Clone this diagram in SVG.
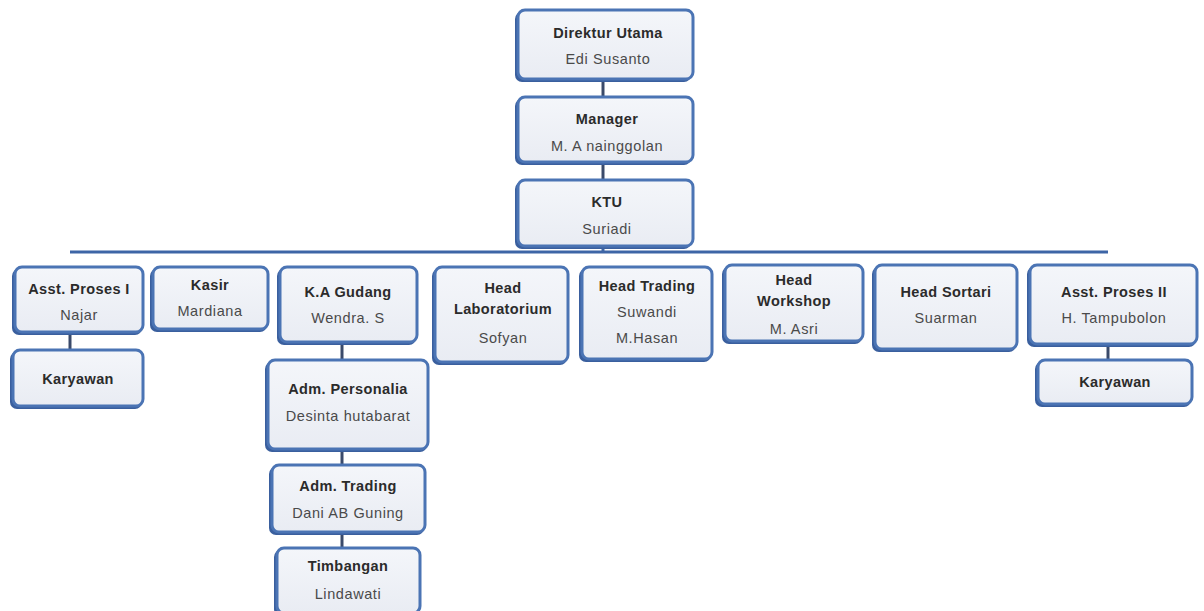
<svg xmlns="http://www.w3.org/2000/svg" width="1204" height="611" viewBox="0 0 1204 611">
<defs>
<linearGradient id="g" x1="0" y1="0" x2="0" y2="1">
<stop offset="0" stop-color="#f4f6fa"/>
<stop offset="1" stop-color="#e9ecf3"/>
</linearGradient>
<style>
.sh{fill:#3a5f9e}
.bx{fill:url(#g);stroke:#4b74b4;stroke-width:3}
.t{font-family:"Liberation Sans",Arial,sans-serif;font-size:14.5px;font-weight:bold;fill:#2b2b2b;text-anchor:middle;letter-spacing:0.4px}
.n{font-family:"Liberation Sans",Arial,sans-serif;font-size:14.5px;fill:#4a4a4a;text-anchor:middle;letter-spacing:0.6px}
.c{stroke:#3d65a6;stroke-width:3;fill:none}
.s{stroke:#3a4a6a;stroke-width:3;fill:none}
</style>
</defs>
<rect width="1204" height="611" fill="#ffffff"/>
<g id="connectors">
<line class="c" x1="70" y1="252" x2="1108" y2="252"/>
<line class="s" x1="603" y1="80" x2="603" y2="97"/>
<line class="s" x1="603" y1="163" x2="603" y2="180"/>
<line class="c" x1="603" y1="247" x2="603" y2="252"/>
<line class="s" x1="70" y1="333" x2="70" y2="350"/>
<line class="s" x1="342" y1="343" x2="342" y2="360"/>
<line class="s" x1="342" y1="450" x2="342" y2="465"/>
<line class="s" x1="342" y1="533" x2="342" y2="548"/>
<line class="s" x1="1108" y1="345" x2="1108" y2="360"/>
</g>
<g id="direktur"><rect class="sh" x="515" y="12" width="176" height="70" rx="7"/><rect class="bx" x="518" y="10" width="175" height="69" rx="7"/><text class="t" x="608" y="38">Direktur Utama</text><text class="n" x="608" y="64">Edi Susanto</text></g>
<g id="manager"><rect class="sh" x="515" y="99" width="176" height="66" rx="7"/><rect class="bx" x="518" y="97" width="175" height="65" rx="7"/><text class="t" x="607" y="124">Manager</text><text class="n" x="607" y="151">M. A nainggolan</text></g>
<g id="ktu"><rect class="sh" x="515" y="182" width="176" height="67" rx="7"/><rect class="bx" x="518" y="180" width="175" height="66" rx="7"/><text class="t" x="607" y="207">KTU</text><text class="n" x="607" y="234">Suriadi</text></g>
<g id="asst1"><rect class="sh" x="12" y="269" width="130" height="66" rx="7"/><rect class="bx" x="15" y="267" width="128" height="65" rx="7"/><text class="t" x="79" y="294">Asst. Proses I</text><text class="n" x="79" y="320">Najar</text></g>
<g id="kasir"><rect class="sh" x="150" y="269" width="117" height="63" rx="7"/><rect class="bx" x="153" y="267" width="115" height="62" rx="7"/><text class="t" x="210" y="290">Kasir</text><text class="n" x="210" y="316">Mardiana</text></g>
<g id="kagudang"><rect class="sh" x="277" y="269" width="139" height="76" rx="7"/><rect class="bx" x="280" y="267" width="137" height="75" rx="7"/><text class="t" x="348" y="297">K.A Gudang</text><text class="n" x="348" y="323">Wendra. S</text></g>
<g id="lab"><rect class="sh" x="432" y="269" width="135" height="96" rx="7"/><rect class="bx" x="435" y="267" width="133" height="95" rx="7"/><text class="t" x="503" y="293">Head</text><text class="t" x="503" y="314">Laboratorium</text><text class="n" x="503" y="343">Sofyan</text></g>
<g id="trading"><rect class="sh" x="579" y="269" width="132" height="93" rx="7"/><rect class="bx" x="582" y="267" width="130" height="92" rx="7"/><text class="t" x="647" y="291">Head Trading</text><text class="n" x="647" y="317">Suwandi</text><text class="n" x="647" y="343">M.Hasan</text></g>
<g id="workshop"><rect class="sh" x="722" y="267" width="140" height="77" rx="7"/><rect class="bx" x="725" y="265" width="138" height="76" rx="7"/><text class="t" x="794" y="285">Head</text><text class="t" x="794" y="306">Workshop</text><text class="n" x="794" y="334">M. Asri</text></g>
<g id="sortari"><rect class="sh" x="872" y="267" width="144" height="85" rx="7"/><rect class="bx" x="875" y="265" width="142" height="84" rx="7"/><text class="t" x="946" y="297">Head Sortari</text><text class="n" x="946" y="323">Suarman</text></g>
<g id="asst2"><rect class="sh" x="1027" y="267" width="169" height="80" rx="7"/><rect class="bx" x="1030" y="265" width="167" height="79" rx="7"/><text class="t" x="1114" y="297">Asst. Proses II</text><text class="n" x="1114" y="323">H. Tampubolon</text></g>
<g id="karyawan1"><rect class="sh" x="10" y="352" width="132" height="57" rx="7"/><rect class="bx" x="13" y="350" width="130" height="56" rx="7"/><text class="t" x="78" y="384">Karyawan</text></g>
<g id="karyawan2"><rect class="sh" x="1035" y="362" width="156" height="45" rx="7"/><rect class="bx" x="1038" y="360" width="154" height="44" rx="7"/><text class="t" x="1115" y="387">Karyawan</text></g>
<g id="admpers"><rect class="sh" x="265" y="362" width="162" height="90" rx="7"/><rect class="bx" x="268" y="360" width="160" height="89" rx="7"/><text class="t" x="348" y="394">Adm. Personalia</text><text class="n" x="348" y="421">Desinta hutabarat</text></g>
<g id="admtrad"><rect class="sh" x="269" y="467" width="155" height="68" rx="7"/><rect class="bx" x="272" y="465" width="153" height="67" rx="7"/><text class="t" x="348" y="491">Adm. Trading</text><text class="n" x="348" y="518">Dani AB Guning</text></g>
<g id="timbangan"><rect class="sh" x="274" y="550" width="145" height="66" rx="7"/><rect class="bx" x="277" y="548" width="143" height="65" rx="7"/><text class="t" x="348" y="571">Timbangan</text><text class="n" x="348" y="599">Lindawati</text></g>
</svg>
